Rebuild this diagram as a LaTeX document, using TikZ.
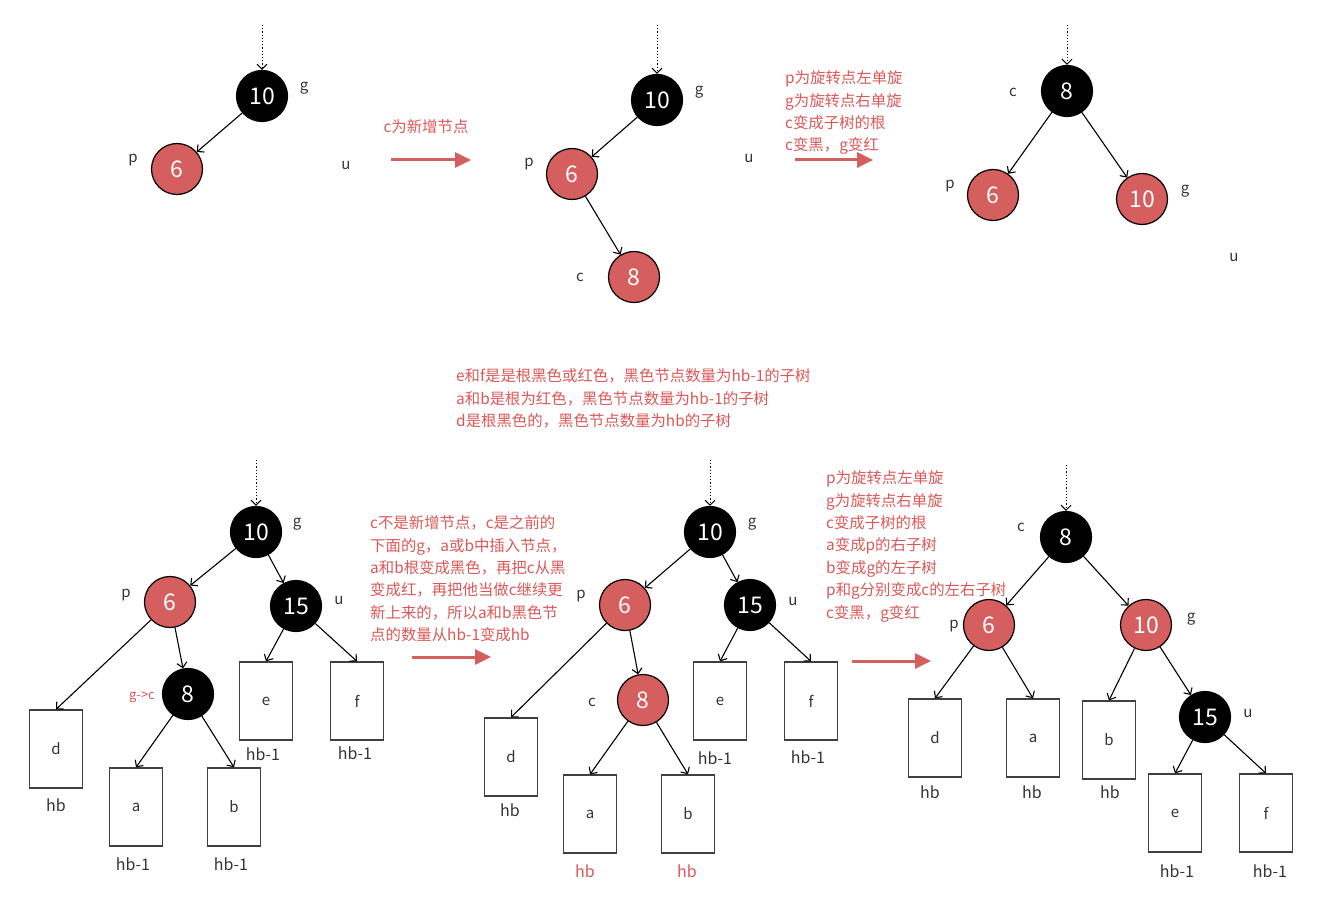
\documentclass[tikz,border=0pt]{standalone}
\usepackage{fontspec}
\setmainfont{Noto Sans CJK SC}
\usepackage{tikz}
\usetikzlibrary{arrows.meta}
\definecolor{rbred}{RGB}{213,94,94}
\definecolor{txtred}{RGB}{219,88,88}
\definecolor{lblgray}{RGB}{51,51,51}

\begin{document}
\begin{tikzpicture}[x=1pt, y=-1pt,
    bnode/.style={circle, fill=black, draw=black, line width=1.2pt, minimum size=51pt, inner sep=0pt, text=white, font=\fontsize{23}{23}\selectfont},
    rnode/.style={bnode, fill=rbred},
    sub/.style={draw=black!75, line width=1.3pt, minimum width=53pt, minimum height=78pt, inner sep=0pt, text=lblgray, font=\fontsize{15}{15}\selectfont},
    lbl/.style={text=lblgray, inner sep=0pt, font=\fontsize{15}{15}\selectfont},
    hb/.style={text=lblgray, inner sep=0pt, font=\fontsize{16}{16}\selectfont},
    note/.style={text=txtred, inner sep=0pt, align=left, anchor=north west, font=\fontsize{15.4}{22.4}\selectfont},
    link/.style={-{Straight Barb[length=5pt,width=10pt]}, line width=1.1pt},
    inarrow/.style={link, line width=1pt, dash pattern=on 1.2pt off 2pt},
    goarrow/.style={-{Triangle[length=16pt,width=15pt]}, line width=3pt, rbred}]
    % Bildbereich
    \useasboundingbox (0,0) rectangle (1332,904);
    % ---------- oben links ----------
    \coordinate (in1) at (262,25);
    \node[bnode] (g1) at (262,96) {10};
    \node[rnode] (p1) at (177,169) {6};
    \node[lbl] (lg1) at (304,88) {g};
    \node[lbl] (lp1) at (133,160) {p};
    \node[lbl] (lu1) at (346,166) {u};
    \draw[inarrow] (in1) -- (g1);
    \draw[link] (g1) -- (p1);
    % Pfeil 1
    \node[note, anchor=center] (n1) at (426,127) {c为新增节点};
    \coordinate (s1) at (391,160);
    \coordinate (e1) at (471,160);
    \draw[goarrow] (s1) -- (e1);
    % ---------- oben Mitte ----------
    \coordinate (in2) at (657,25);
    \node[bnode] (g2) at (657,100) {10};
    \node[rnode] (p2) at (572,174) {6};
    \node[rnode] (c2) at (634,277) {8};
    \node[lbl] (lg2) at (699,92) {g};
    \node[lbl] (lp2) at (529,164) {p};
    \node[lbl] (lc2) at (580,277) {c};
    \node[lbl] (lu2) at (749,159) {u};
    \draw[inarrow] (in2) -- (g2);
    \draw[link] (g2) -- (p2);
    \draw[link] (p2) -- (c2);
    % Pfeil 2
    \node[note] (n2) at (785,70.5) {p为旋转点左单旋\\g为旋转点右单旋\\c变成子树的根\\c变黑，g变红};
    \coordinate (s2) at (795,160);
    \coordinate (e2) at (873,160);
    \draw[goarrow] (s2) -- (e2);
    % ---------- oben rechts ----------
    \coordinate (in3) at (1067,25);
    \node[bnode] (c3) at (1067,91) {8};
    \node[rnode] (p3) at (993,195) {6};
    \node[rnode] (g3) at (1142,199) {10};
    \node[lbl] (lc3) at (1013,92) {c};
    \node[lbl] (lp3) at (950,186) {p};
    \node[lbl] (lg3) at (1185,191) {g};
    \node[lbl] (lu3) at (1234,258) {u};
    \draw[inarrow] (in3) -- (c3);
    \draw[link] (c3) -- (p3);
    \draw[link] (c3) -- (g3);
    % Erklaerung Mitte
    \node[note] (n3) at (456,368.5) {e和f是是根黑色或红色，黑色节点数量为hb-1的子树\\a和b是根为红色，黑色节点数量为hb-1的子树\\d是根黑色的，黑色节点数量为hb的子树};
    % ---------- unten links ----------
    \coordinate (in4) at (256,460);
    \node[bnode] (g4) at (256,532) {10};
    \node[rnode] (p4) at (170,602) {6};
    \node[bnode] (u4) at (296,606) {15};
    \node[bnode] (c4) at (188,694) {8};
    \node[sub] (d4) at (56,749) {d};
    \node[sub] (a4) at (136,807) {a};
    \node[sub] (b4) at (234,807) {b};
    \node[sub] (e4) at (266,701) {e};
    \node[sub] (f4) at (357,701) {f};
    \node[lbl] (lg4) at (297,524) {g};
    \node[lbl] (lp4) at (126,595) {p};
    \node[lbl] (lu4) at (339,601) {u};
    \node[lbl, text=txtred, font=\fontsize{13}{13}\selectfont] (lc4) at (142,697) {g->c};
    \foreach \n/\x/\y/\t in {d/56/805/hb, a/133/864/hb-1, b/231/864/hb-1, e/263/754/hb-1, f/355/753/hb-1}
        \node[hb] (h4\n) at (\x,\y) {\t};
    \draw[inarrow] (in4) -- (g4);
    \draw[link] (g4) -- (p4);
    \draw[link] (g4) -- (u4);
    \draw[link] (p4) -- (d4.north);
    \draw[link] (p4) -- (c4);
    \draw[link] (c4) -- (a4.north);
    \draw[link] (c4) -- (b4.north);
    \draw[link] (u4) -- (e4.north);
    \draw[link] (u4) -- (f4.north);
    % Pfeil 3
    \node[note] (n4) at (370,515.5) {c不是新增节点，c是之前的\\下面的g，a或b中插入节点，\\a和b根变成黑色，再把c从黑\\变成红，再把他当做c继续更\\新上来的，所以a和b黑色节\\点的数量从hb-1变成hb};
    \coordinate (s3) at (412,657);
    \coordinate (e3) at (491,657);
    \draw[goarrow] (s3) -- (e3);
    % ---------- unten Mitte ----------
    \coordinate (in5) at (710,460);
    \node[bnode] (g5) at (710,532) {10};
    \node[rnode] (p5) at (625,605) {6};
    \node[bnode] (u5) at (750,605) {15};
    \node[rnode] (c5) at (643,700) {8};
    \node[sub] (d5) at (511,757) {d};
    \node[sub] (a5) at (590,814) {a};
    \node[sub] (b5) at (688,814) {b};
    \node[sub] (e5) at (720,701) {e};
    \node[sub] (f5) at (811,701) {f};
    \node[lbl] (lg5) at (752,524) {g};
    \node[lbl] (lp5) at (581,596) {p};
    \node[lbl] (lu5) at (793,602) {u};
    \node[lbl] (lc5) at (592,702) {c};
    \node[hb] (h5d) at (510,810) {hb};
    \node[hb, text=txtred] (h5a) at (585,871) {hb};
    \node[hb, text=txtred] (h5b) at (687,871) {hb};
    \node[hb] (h5e) at (715,758) {hb-1};
    \node[hb] (h5f) at (808,757) {hb-1};
    \draw[inarrow] (in5) -- (g5);
    \draw[link] (g5) -- (p5);
    \draw[link] (g5) -- (u5);
    \draw[link] (p5) -- (d5.north);
    \draw[link] (p5) -- (c5);
    \draw[link] (c5) -- (a5.north);
    \draw[link] (c5) -- (b5.north);
    \draw[link] (u5) -- (e5.north);
    \draw[link] (u5) -- (f5.north);
    % Pfeil 4
    \node[note] (n5) at (826,470.5) {p为旋转点左单旋\\g为旋转点右单旋\\c变成子树的根\\a变成p的右子树\\b变成g的左子树\\p和g分别变成c的左右子树\\c变黑，g变红};
    \coordinate (s4) at (852,661);
    \coordinate (e4) at (931,661);
    \draw[goarrow] (s4) -- (e4);
    % ---------- unten rechts ----------
    \coordinate (in6) at (1066,465);
    \node[bnode] (c6) at (1066,537) {8};
    \node[rnode] (p6) at (989,625) {6};
    \node[rnode] (g6) at (1146,625) {10};
    \node[bnode] (u6) at (1205,717) {15};
    \node[sub] (d6) at (935,738) {d};
    \node[sub] (a6) at (1033,738) {a};
    \node[sub] (b6) at (1109,740) {b};
    \node[sub] (e6) at (1175,813) {e};
    \node[sub] (f6) at (1266,813) {f};
    \node[lbl] (lc6) at (1021,527) {c};
    \node[lbl] (lp6) at (954,626) {p};
    \node[lbl] (lg6) at (1191,619) {g};
    \node[lbl] (lu6) at (1248,714) {u};
    \foreach \n/\x/\y/\t in {d/930/792/hb, a/1032/792/hb, b/1110/792/hb, e/1177/871/hb-1, f/1270/871/hb-1}
        \node[hb] (h6\n) at (\x,\y) {\t};
    \draw[inarrow] (in6) -- (c6);
    \draw[link] (c6) -- (p6);
    \draw[link] (c6) -- (g6);
    \draw[link] (p6) -- (d6.north);
    \draw[link] (p6) -- (a6.north);
    \draw[link] (g6) -- (b6.north);
    \draw[link] (g6) -- (u6);
    \draw[link] (u6) -- (e6.north);
    \draw[link] (u6) -- (f6.north);
\end{tikzpicture}
\end{document}
